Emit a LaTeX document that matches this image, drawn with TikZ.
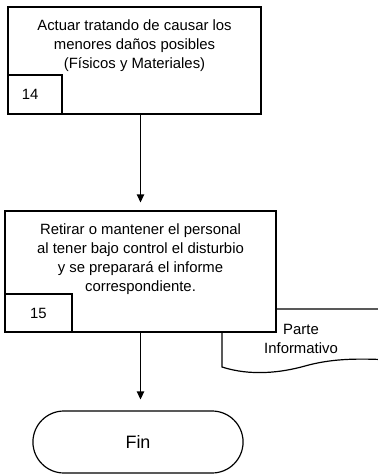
\documentclass[tikz,border=0pt]{standalone}
\usepackage{fontspec}
\setmainfont{Liberation Sans}
\usepackage{tikz}
\usetikzlibrary{positioning,arrows.meta}

\begin{document}
\begin{tikzpicture}[
    x=0.02646cm, y=-0.02646cm,
    font=\fontsize{11.2}{14.25}\selectfont,
    >={Triangle[length=6pt,width=5.5pt]},
    actbox/.style={draw, line width=1pt, fill=white},
    numbox/.style={draw, line width=1pt, fill=white, inner sep=0pt},
    acttext/.style={align=center, inner sep=0pt},
    finbox/.style={draw, line width=0.9pt, rounded corners=0.82cm,
        minimum width=5.56cm, minimum height=1.64cm,
        font=\fontsize{13.5}{16}\selectfont},
    arrow/.style={->, line width=0.9pt}
]
\clip (0,0) rectangle (378,475);

% step 14
\node[actbox, minimum width=6.69cm, minimum height=2.83cm] (act14) at (134.5,60.5) {};
\node[acttext] (txt14) at (134.5,46)
    {Actuar tratando de causar los\\menores daños posibles\\(Físicos y Materiales)};
\node[numbox, minimum width=1.43cm, minimum height=1.03cm,
    text width=0.69cm, inner xsep=0.37cm, align=left] (num14) at (35,94.5) {14};

% report document behind step 15
\draw[line width=0.9pt, fill=white] (222,309) -- (222,367)
    .. controls (250,376) and (280,373) .. (305,366)
    .. controls (330,359) and (355,358) .. (390,360) -- (390,309) -- cycle;
\node[acttext] (parte) at (301,339) {Parte\\Informativo};

% step 15
\node[actbox, minimum width=7.17cm, minimum height=3.20cm] (act15) at (140.5,271.5) {};
\node[acttext] (txt15) at (140.5,259)
    {Retirar o mantener el personal\\al tener bajo control el disturbio\\y se preparará el informe\\correspondiente.};
\node[numbox, minimum width=1.77cm, minimum height=1.01cm] (num15) at (38.5,313) {15};

% end
\node[finbox] (fin) at (138,442) {Fin};

\draw[arrow, shorten >=0.21cm] (act15.north |- act14.south) -- (act15.north);
\draw[arrow, shorten >=0.29cm] (act15.south) -- (act15.south |- fin.north);
\end{tikzpicture}
\end{document}
